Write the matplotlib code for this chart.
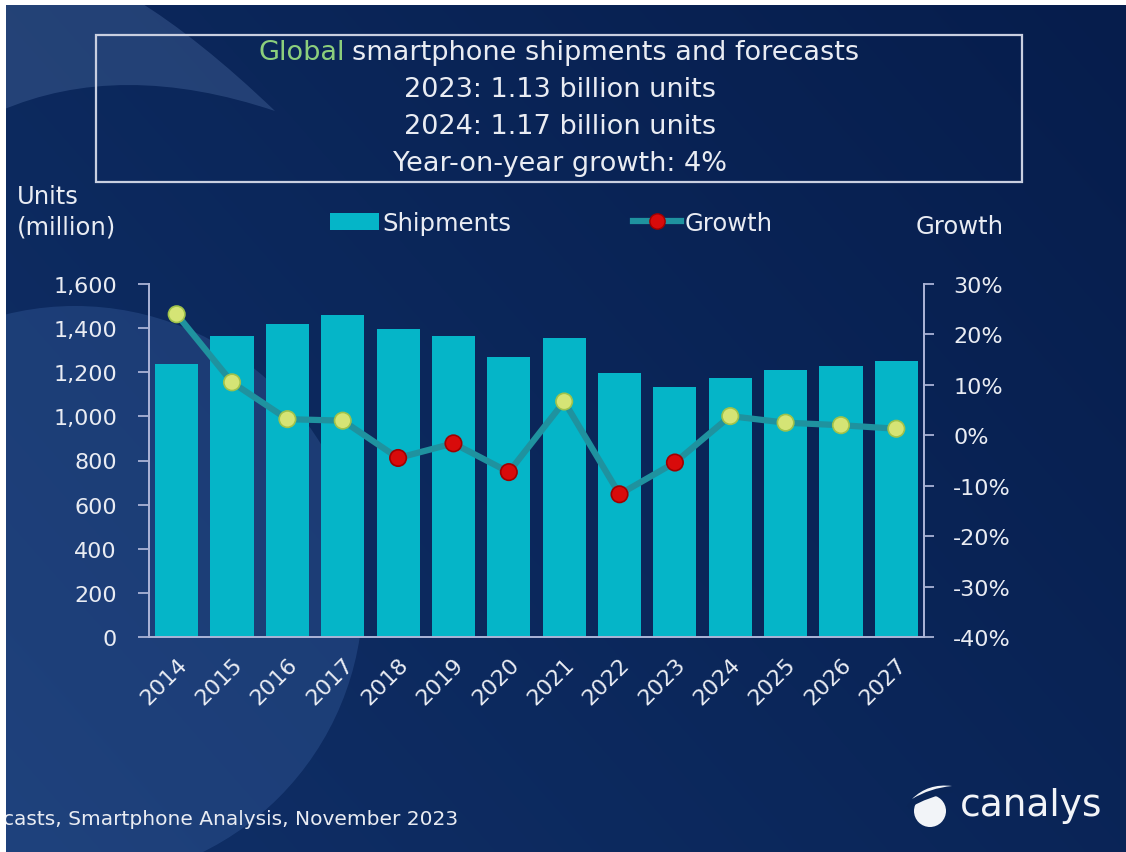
import numpy as np
import matplotlib.pyplot as plt
from matplotlib.patches import Rectangle, Circle, PathPatch, Patch
from matplotlib.path import Path
from matplotlib.lines import Line2D
from matplotlib.ticker import FuncFormatter

years = ['2014', '2015', '2016', '2017', '2018', '2019', '2020',
         '2021', '2022', '2023', '2024', '2025', '2026', '2027']
shipments = [1237, 1366, 1419, 1461, 1396, 1366, 1268,
             1354, 1197, 1132, 1174, 1210, 1230, 1251]
growth = [24.0, 10.5, 3.2, 2.9, -4.5, -1.6, -7.3,
          6.7, -11.7, -5.4, 3.8, 2.5, 2.0, 1.3]

title_lines = ['smartphone shipments and forecasts',
               '2023: 1.13 billion units',
               '2024: 1.17 billion units',
               'Year-on-year growth: 4%']

W, H = 1126, 853
BAR = '#05b5c8'
LINE = '#1f929f'
POS = '#d5e475'
NEG = '#d80b0b'
TXT = '#e9ecf3'
SPINE = '#aab3d6'

plt.rcParams['font.family'] = ['DejaVu Sans']

fig = plt.figure(figsize=(W / 100, H / 100), dpi=100)

# background: navy gradient, a bit lighter towards the lower left
bg = fig.add_axes([0, 0, 1, 1])
yy, xx = np.mgrid[0:1:200j, 0:1:260j]
shade = 0.6 * (1 - xx) + 0.4 * yy
dark = np.array([6, 29, 76]) / 255
light = np.array([16, 48, 104]) / 255
img = dark + (light - dark) * np.clip(shade, 0, 1)[..., None]
bg.imshow(img, extent=[0, W, H, 0], aspect='auto', interpolation='bilinear')
bg.set_xlim(0, W)
bg.set_ylim(H, 0)
bg.axis('off')

# swoosh shapes
cres = Path([(0, 112), (120, 60), (275, 112), (200, 40), (135, 0), (0, 0), (0, 112)],
            [Path.MOVETO, Path.CURVE3, Path.CURVE3, Path.CURVE3, Path.CURVE3,
             Path.LINETO, Path.CLOSEPOLY])
bg.add_patch(PathPatch(cres, facecolor='#5d7fb5', edgecolor='none', alpha=0.3))
bg.add_patch(Circle((75, 595), 288, facecolor='#4670b3', edgecolor='none', alpha=0.28))

# title box
bg.add_patch(Rectangle((96, 36), 926, 147, facecolor='none', edgecolor='#c9cfe0', lw=1.6))
t0 = bg.text(258, 53, 'Global', color='#8ccf7c', fontsize=19.5, ha='left', va='center')
fig.canvas.draw()
bb = t0.get_window_extent().transformed(bg.transData.inverted())
bg.text(bb.x1 + 7, 53, title_lines[0], color=TXT, fontsize=19.5, ha='left', va='center')
for i, line in enumerate(title_lines[1:], start=1):
    bg.text(560, 53 + 37 * i, line, color=TXT, fontsize=19.5, ha='center', va='center')

bg.text(17, 197, 'Units', color=TXT, fontsize=17.5, ha='left', va='center')
bg.text(17, 227, '(million)', color=TXT, fontsize=17.5, ha='left', va='center')
bg.text(1004, 227, 'Growth', color=TXT, fontsize=17.5, ha='right', va='center')

bg.text(3, 820, 'casts, Smartphone Analysis, November 2023', color=TXT,
        fontsize=14.5, ha='left', va='center')

# canalys logo
bg.text(960, 806, 'canalys', color='#f2f4f8', fontsize=27, ha='left', va='center')
bg.add_patch(Circle((930, 812), 16, facecolor='#f2f4f8', edgecolor='none'))
logo_cut = Path([(908, 808), (925, 788), (952, 792), (928, 796), (908, 808)],
                [Path.MOVETO, Path.CURVE3, Path.CURVE3, Path.CURVE3, Path.CURVE3])
bg.add_patch(PathPatch(logo_cut, facecolor='#0a2557', edgecolor='#0a2557', lw=2))
logo_top = Path([(912, 800), (928, 784), (952, 787), (930, 789), (912, 800)],
                [Path.MOVETO, Path.CURVE3, Path.CURVE3, Path.CURVE3, Path.CURVE3])
bg.add_patch(PathPatch(logo_top, facecolor='#f2f4f8', edgecolor='none'))

# white edges of the screenshot
bg.add_patch(Rectangle((0, 0), W, 6, facecolor='white', edgecolor='none', zorder=10))
bg.add_patch(Rectangle((0, 0), 6, H, facecolor='white', edgecolor='none', zorder=10))

# main chart
ax = fig.add_axes([149 / W, 1 - 638 / H, 775 / W, 353 / H])
ax.set_facecolor('none')
x = np.arange(len(years))
ax.bar(x, shipments, width=0.78, color=BAR, zorder=2)
ax.set_xlim(-0.5, len(years) - 0.5)
ax.set_ylim(0, 1600)
ax.set_yticks(range(0, 1601, 200))
ax.yaxis.set_major_formatter(FuncFormatter(lambda v, p: f'{v:,.0f}'))
ax.set_xticks(x)
ax.set_xticklabels(years, rotation=45, ha='right', va='top', rotation_mode='anchor')

ax2 = ax.twinx()
ax2.set_facecolor('none')
ax2.plot(x, growth, color=LINE, lw=4.5, zorder=3)
g = np.array(growth)
ax2.scatter(x, g, s=140, c=np.where(g >= 0, POS, NEG),
            edgecolors=np.where(g >= 0, '#9fc24a', '#a00000'), linewidths=1.2, zorder=4)
ax2.set_ylim(-40, 30)
ax2.set_yticks(range(-40, 31, 10))
ax2.yaxis.set_major_formatter(FuncFormatter(lambda v, p: f'{v:.0f}%'))

for a in (ax, ax2):
    for s in a.spines.values():
        s.set_color(SPINE)
        s.set_linewidth(1.3)
    a.spines['top'].set_visible(False)
ax.tick_params(axis='y', colors=SPINE, labelcolor=TXT, labelsize=16, length=8, width=1.3, pad=15)
ax.tick_params(axis='x', length=0, labelcolor=TXT, labelsize=16, pad=12)
ax2.tick_params(axis='y', colors=SPINE, labelcolor=TXT, labelsize=16, length=7, width=1.3, pad=14)
for lab in ax2.get_yticklabels():
    lab.set_horizontalalignment('left')

handles = [Patch(facecolor=BAR, edgecolor='none'),
           Line2D([0], [0], color=LINE, lw=4.5, marker='o', markersize=11,
                  markerfacecolor=NEG, markeredgecolor='#a00000')]
fig.legend(handles, ['Shipments', 'Growth'], ncol=2, frameon=False,
           loc='center left', bbox_to_anchor=(330 / W, 1 - 224 / H),
           fontsize=17.5, labelcolor=TXT, handlelength=2.0, handleheight=0.7,
           handletextpad=0.15, columnspacing=5.0, borderpad=0, borderaxespad=0)

fig.savefig('out.png', dpi=100)
